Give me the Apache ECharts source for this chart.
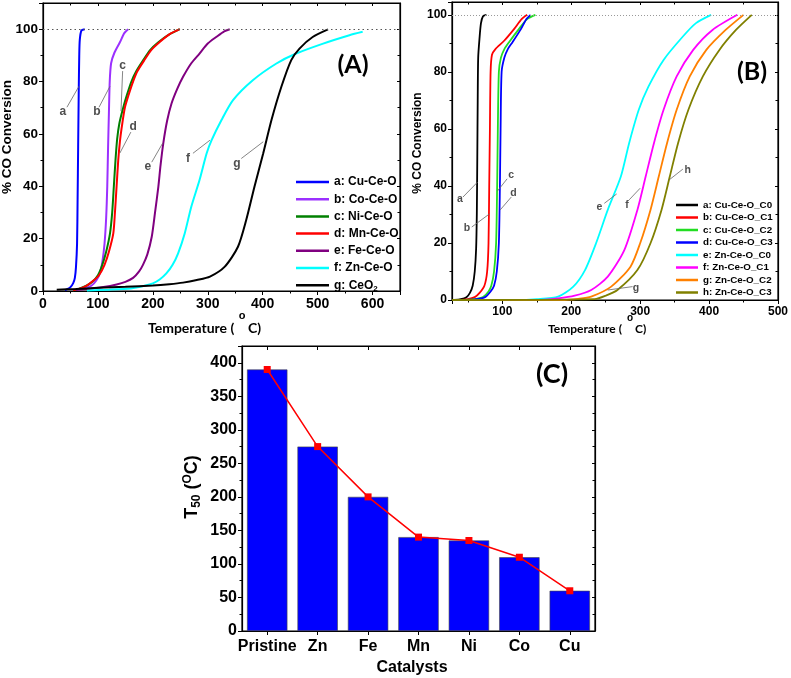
<!DOCTYPE html>
<html><head><meta charset="utf-8">
<script src="https://cdn.jsdelivr.net/npm/echarts@6.0.0/dist/echarts.min.js"></script>
<style>html,body{margin:0;padding:0;background:#fff}#c{width:791px;height:678px}</style>
</head><body><div id="c"></div><script>
// ---------------- DATA ----------------
// Panel A: temperature (°C), % CO conversion
const namesA = ['a: Cu-Ce-O','b: Co-Ce-O','c: Ni-Ce-O','d: Mn-Ce-O','e: Fe-Ce-O','f: Zn-Ce-O','g: CeO2'];
const cuCeO = [[40,0.3],[45,0.8],[50,1.5],[55,3],[58,5],[60,9],[62,18],[63,35],[64,55],[65,75],[66,90],[67,96],[70,99.5],[76,100]];
const coCeO = [[55,0.5],[75,1],[88,2],[97,4],[104,7],[108,11],[112,18],[115,28],[117,40],[118.5,55],[120,68],[121.5,80],[124,87],[130,91],[140,95],[148,98.5],[155,100]];
const niCeO = [[55,0.3],[65,0.8],[79,2],[90,3.5],[100,6],[108,10],[115,15],[122,22],[126,30],[129,40],[132,50],[135,58],[139,64],[146,70],[153,75],[161,80],[170,84],[182,88],[195,92],[210,95],[230,98],[249,100]];
const mnCeO = [[55,0.3],[65,0.8],[79,2],[92,4],[102,6],[112,10],[120,15],[128,22],[131,30],[134,40],[137,50],[140,57],[143,62],[149,70],[156,75],[164,80],[172,84],[184,88],[197,92],[212,95],[230,98],[249,100]];
const feCeO = [[60,0.5],[90,1],[110,1.5],[134,2.5],[150,3.5],[164,5],[175,7.5],[182,10],[190,14],[198,20.7],[204,30],[210,39.8],[214,48],[219,56.4],[226,65],[234,71.6],[244,77],[255,81.8],[270,87],[285,90.7],[300,94.5],[316,97.1],[330,99.2],[340,100]];
const znCeO = [[80,0.2],[120,0.5],[160,1],[185,2],[200,2.9],[213,4.5],[225,6.8],[236,10],[246,14.4],[258,22],[270,32.2],[285,42.4],[298,52.6],[307,57.6],[325,65.3],[346,72.9],[382,80.5],[425,86.9],[461,90.7],[510,94.5],[558,97.7],[582,99]];
const ceO2 = [[25,0.5],[60,0.8],[100,1.2],[150,1.6],[200,2.1],[230,2.6],[255,3.2],[280,4.2],[304,5.5],[331,9.3],[355,16.9],[370,27.1],[385,39.8],[401,52.6],[416,65.3],[434,78],[452,88.2],[467,92.6],[491,97],[519,99.9]];
const dataA = [cuCeO, coCeO, niCeO, mnCeO, feCeO, znCeO, ceO2];
// annotation letters A: letter, label point, leader start, leader end (data units)
const annotA = [
  ['a',[36,68.3],[43.6,70.2],[65.5,78.2]],
  ['b',[98,68.3],[102,70.2],[122,78.2]],
  ['c',[145,85.9],[145,84],[142,68.7]],
  ['d',[164,62.6],[160,60.7],[140,52.7]],
  ['e',[191,47.3],[198,49.2],[218,56.5]],
  ['f',[264,50.6],[273,52.6],[304,57.6]],
  ['g',[353,48.5],[361,50.6],[401,57]]
];

// Panel B
const namesB = ['a: Cu-Ce-O_C0','b: Cu-Ce-O_C1','c: Cu-Ce-O_C2','d: Cu-Ce-O_C3','e: Zn-Ce-O_C0','f: Zn-Ce-O_C1','g: Zn-Ce-O_C2','h: Zn-Ce-O_C3'];
const cuC0 = [[30,0],[40,0.3],[48,1],[53,2.5],[57,5],[60,10],[62,18],[63,30],[63.7,50],[64.3,70],[65,85],[67,92],[69,97],[72,99.5],[77,100]];
const cuC1 = [[35,0],[50,0.3],[60,1],[67,2.5],[74,5],[78,10],[80,20],[81,40],[82,60],[83,80],[85,86],[90,88],[103,91],[117,95],[128,98.5],[136,100]];
const cuC2 = [[40,0],[60,0.3],[72,1],[80,3],[84,5],[88,10],[91,20],[92.5,40],[93.5,60],[95,80],[98,85],[103,88],[110,90.5],[124,95],[136,98.5],[148,100]];
const cuC3 = [[40,0],[60,0.2],[75,1],[83,3],[88,5],[92,10],[95,20],[96.5,40],[97.5,60],[99,80],[103,85],[108,88],[115,90.5],[127,95],[135,98.5],[141,100]];
const znC0 = [[27,0],[120,0],[150,0.3],[181,1.2],[203,4.7],[220,10.5],[236,19.9],[253,31.6],[272,43.3],[284,55],[298,66.7],[312,74.8],[334,84.2],[362,92.4],[381,97.1],[403,100]];
const znC1 = [[27,0],[150,0],[181,0.6],[205,1.5],[229,3.5],[253,8.2],[277,17.5],[296,31.6],[308,43.3],[320,55],[334,66.7],[353,78.4],[377,87.7],[405,94.7],[441,100]];
const znC2 = [[27,0],[190,0],[210,0.4],[229,1.2],[258,4.7],[286,11.7],[300,19.9],[315,31.6],[327,43.3],[339,55],[353,66.7],[372,78.4],[396,87.7],[424,94.7],[450,100]];
const znC3 = [[27,0],[234,0.3],[250,1.5],[267,3.5],[296,10.5],[315,19.9],[331,31.6],[343,43.3],[355,55],[370,66.7],[391,78.4],[415,87.7],[439,94.7],[462,100]];
const dataB = [cuC0, cuC1, cuC2, cuC3, znC0, znC1, znC2, znC3];
const annotB = [
  ['a',[38.6,35.4],[42.9,36.1],[64.3,41.4]],
  ['b',[48.6,25.3],[55.7,25.6],[81.4,30.2]],
  ['c',[113,43.9],[107,42.5],[92.9,38.2]],
  ['d',[116,37.5],[113,36.1],[97,31.6]],
  ['e',[241,32.7],[248,33.9],[266,37.2]],
  ['f',[281,33.3],[284,35.1],[300,39.2]],
  ['g',[294,4.1],[289,4.7],[253,3.5]],
  ['h',[369,45.6],[362,45.9],[342,42.1]]
];

// Panel C
const catalysts = ['Pristine','Zn','Fe','Mn','Ni','Co','Cu'];
const t50 = [390, 275, 200, 140, 135, 110, 60];

// ---------------- STYLE ----------------
const colorsA = ['#0000FF','#9B30FF','#008000','#FF0000','#800080','#00FFFF','#000000'];
const colorsB = ['#000000','#FF0000','#22DD22','#0000FF','#00FFFF','#FF00FF','#FF8000','#808000'];
const F = 'Liberation Sans, Arial, sans-serif';
const F2 = 'Lato, Open Sans, sans-serif';

function axisBase(extra) {
  return Object.assign({
    axisLine: {show: true, onZero: false, lineStyle: {color: '#000', width: 1.2}},
    splitLine: {show: false},
  }, extra);
}
function valX(grid, min, max, interval, fs, fmtStep, pos) {
  const isTop = pos === 'top';
  const o = axisBase({
    type: 'value', gridIndex: grid, min: min, max: max, position: pos,
    axisTick: {show: true, inside: isTop, length: isTop ? 3 : 4, lineStyle: {color: '#000'}},
    minorTick: {show: true, splitNumber: 2, length: 2.5, lineStyle: {color: '#000'}},
    axisLabel: {show: !isTop, color: '#000', fontFamily: F, fontWeight: 'bold', fontSize: fs, margin: 6,
      formatter: v => (Math.abs(v % fmtStep) < 1e-6 ? String(v) : '')}
  });
  if (interval) o.interval = interval; else o.splitNumber = 5;
  return o;
}
function valY(grid, min, max, interval, fs, fmtStep, pos, minorSplit) {
  const isR = pos === 'right';
  return axisBase({
    type: 'value', gridIndex: grid, min: min, max: max, interval: interval, position: pos,
    axisTick: {show: true, inside: isR, length: isR ? 3 : 4, lineStyle: {color: '#000'}},
    minorTick: {show: !!minorSplit, splitNumber: minorSplit || 2, length: 2.5, lineStyle: {color: '#000'}},
    axisLabel: {show: !isR, color: '#000', fontFamily: F, fontWeight: 'bold', fontSize: fs, margin: 5,
      formatter: v => (Math.abs(v % fmtStep) < 1e-6 ? String(v) : '')}
  });
}
function catX(grid, pos) {
  const isTop = pos === 'top';
  return axisBase({
    type: 'category', gridIndex: grid, data: catalysts, position: pos, boundaryGap: true,
    axisTick: {show: true, alignWithLabel: true, interval: 0, inside: isTop, length: 4, lineStyle: {color: '#000'}},
    axisLabel: {show: !isTop, interval: 0, color: '#000', fontFamily: F, fontWeight: 'bold', fontSize: 16, margin: 8}
  });
}

const series = [];
dataA.forEach((d, i) => {
  const s = {type: 'line', name: namesA[i], data: d, xAxisIndex: 0, yAxisIndex: 0,
    showSymbol: false, symbol: 'none', smooth: 0.25, lineStyle: {width: 2, color: colorsA[i]},
    itemStyle: {color: colorsA[i]}, z: 3 + i * 0.01};
  if (i === 0) s.markLine = {silent: true, symbol: 'none', label: {show: false},
    lineStyle: {type: [1.5, 3], color: '#555', width: 1}, data: [{yAxis: 100}]};
  series.push(s);
});
dataB.forEach((d, i) => {
  const s = {type: 'line', name: namesB[i], data: d, xAxisIndex: 2, yAxisIndex: 2,
    showSymbol: false, symbol: 'none', smooth: 0.25, lineStyle: {width: 1.8, color: colorsB[i]},
    itemStyle: {color: colorsB[i]}, z: 3};
  if (i === 0) s.markLine = {silent: true, symbol: 'none', label: {show: false},
    lineStyle: {type: [1, 2], color: '#999', width: 1}, data: [{yAxis: 100}]};
  series.push(s);
});
function annotSeries(list, xi, yi, fs) {
  series.push({type: 'lines', coordinateSystem: 'cartesian2d', xAxisIndex: xi, yAxisIndex: yi, silent: true,
    lineStyle: {color: '#666', width: 0.8, opacity: 1}, z: 4,
    data: list.map(a => ({coords: [a[2], a[3]]}))});
  series.push({type: 'scatter', xAxisIndex: xi, yAxisIndex: yi, silent: true, symbol: 'circle', symbolSize: 1,
    itemStyle: {color: 'rgba(0,0,0,0)'}, z: 5,
    label: {show: true, position: 'inside', formatter: '{b}', color: '#222', fontFamily: F, fontWeight: 'bold', fontSize: fs},
    data: list.map(a => ({name: a[0], value: a[1]}))});
}
annotSeries(annotA, 0, 0, 12);
annotSeries(annotB, 2, 2, 10.5);
series.push({type: 'bar', name: 'T50', data: t50, xAxisIndex: 4, yAxisIndex: 4, barWidth: '80%',
  itemStyle: {color: '#0000FF', borderColor: '#444', borderWidth: 0.6}, z: 2});
series.push({type: 'line', name: 'T50 line', data: t50, xAxisIndex: 4, yAxisIndex: 4, symbol: 'rect', symbolSize: 7,
  lineStyle: {color: '#FF0000', width: 1.5}, itemStyle: {color: '#FF0000'}, z: 4});

const gridFrame = {show: true, borderColor: '#000', borderWidth: 1.2, backgroundColor: 'transparent'};
const chart = echarts.init(document.getElementById('c'), null, {renderer: 'canvas'});
chart.setOption({
  animation: false,
  backgroundColor: '#fff',
  grid: [
    Object.assign({left: 43, top: 3, width: 357, height: 288}, gridFrame),
    Object.assign({left: 452, top: 2, width: 330, height: 298}, gridFrame),
    Object.assign({left: 242, top: 346, width: 353, height: 285}, gridFrame)
  ],
  xAxis: [
    valX(0, 0, 650, 100, 14, 100, 'bottom'),
    valX(0, 0, 650, 100, 14, 100, 'top'),
    valX(1, 27, 500, null, 12, 100, 'bottom'),
    valX(1, 27, 500, null, 12, 100, 'top'),
    catX(2, 'bottom'),
    catX(2, 'top')
  ],
  yAxis: [
    valY(0, 0, 110, 20, 13.5, 20, 'left', 2),
    valY(0, 0, 110, 20, 13.5, 20, 'right', 2),
    valY(1, 0, 104.5, 20, 12, 20, 'left', 2),
    valY(1, 0, 104.5, 20, 12, 20, 'right', 2),
    valY(2, 0, 425, 50, 16, 50, 'left', 2),
    valY(2, 0, 425, 50, 16, 50, 'right', 2)
  ],
  legend: [
    {data: namesA, orient: 'vertical', left: 291, top: 170, itemWidth: 33, itemHeight: 2.5, itemGap: 3.2, icon: 'rect',
      textStyle: {color: '#000', fontFamily: F, fontWeight: 'bold', fontSize: 12, lineHeight: 14,
        rich: {s: {fontSize: 8, fontFamily: F, fontWeight: 'bold', color: '#000', padding: [7, 0, 0, 0]}}},
      formatter: n => n.replace('CeO2', 'CeO{s|2}')},
    {data: namesB, orient: 'vertical', left: 671, top: 194.5, itemWidth: 22, itemHeight: 2.5, itemGap: 1.5, icon: 'rect',
      textStyle: {color: '#000', fontFamily: F, fontWeight: 'bold', fontSize: 9.8, lineHeight: 11}}
  ],
  graphic: [
    {type: 'text', x: 353, y: 65, style: {text: '(A)', font: 'bold 25px ' + F2, fill: '#000', align: 'center', verticalAlign: 'middle'}},
    {type: 'text', x: 752, y: 72, style: {text: '(B)', font: 'bold 25px ' + F2, fill: '#000', align: 'center', verticalAlign: 'middle'}},
    {type: 'text', x: 552, y: 374, style: {text: '(C)', font: 'bold 27px ' + F2, fill: '#000', align: 'center', verticalAlign: 'middle'}},
    {type: 'text', x: 7, y: 137, rotation: Math.PI / 2, style: {text: '% CO Conversion', font: 'bold 13.5px ' + F, fill: '#000', align: 'center', verticalAlign: 'middle'}},
    {type: 'text', x: 418, y: 143, rotation: Math.PI / 2, style: {text: '% CO Conversion', font: 'bold 12px ' + F, fill: '#000', align: 'center', verticalAlign: 'middle'}},
    {type: 'text', x: 148, y: 328, style: {text: 'Temperature (', font: 'bold 14px ' + F2, fill: '#000', align: 'left', verticalAlign: 'middle'}},
    {type: 'text', x: 242, y: 316, style: {text: 'o', font: 'bold 11px ' + F, fill: '#000', align: 'center', verticalAlign: 'middle'}},
    {type: 'text', x: 248, y: 328, style: {text: 'C)', font: 'bold 14px ' + F2, fill: '#000', align: 'left', verticalAlign: 'middle'}},
    {type: 'text', x: 548, y: 329, style: {text: 'Temperature (', font: 'bold 12px ' + F2, fill: '#000', align: 'left', verticalAlign: 'middle'}},
    {type: 'text', x: 630, y: 318, style: {text: 'o', font: 'bold 10px ' + F, fill: '#000', align: 'center', verticalAlign: 'middle'}},
    {type: 'text', x: 635, y: 329, style: {text: 'C)', font: 'bold 12px ' + F2, fill: '#000', align: 'left', verticalAlign: 'middle'}},
    {type: 'text', x: 412, y: 668, style: {text: 'Catalysts', font: 'bold 16px ' + F, fill: '#000', align: 'center', verticalAlign: 'middle'}},
    {type: 'text', x: 192, y: 487, rotation: Math.PI / 2, style: {text: 'T{sub|50} ({sup|O}C)', font: 'bold 18px ' + F, fill: '#000', align: 'center', verticalAlign: 'middle',
      rich: {sub: {font: 'bold 12px ' + F, fill: '#000', padding: [9, 0, 0, 0]}, sup: {font: 'bold 12px ' + F, fill: '#000', padding: [0, 0, 8, 0]}}}}
  ],
  series: series
});
</script></body></html>
